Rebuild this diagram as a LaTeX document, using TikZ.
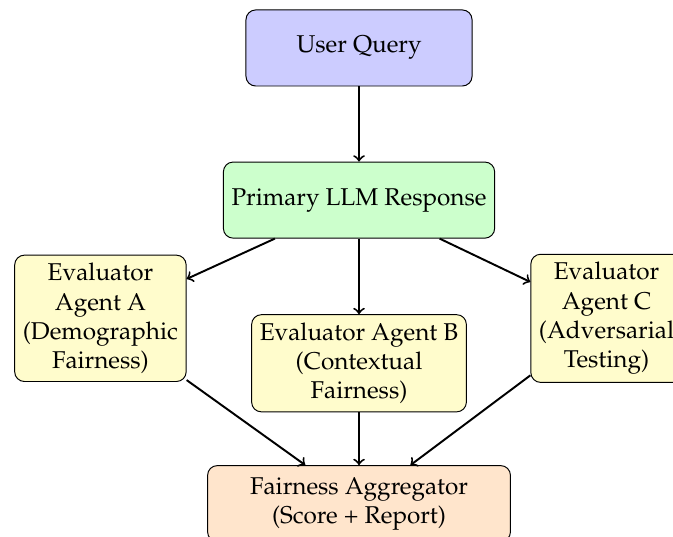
\documentclass[tikz,border=0pt]{standalone}
\usepackage[T1]{fontenc}
\usepackage{mathpazo}

\begin{document}
\begin{tikzpicture}[node distance=2.2cm, auto,
  box/.style={draw, rounded corners, align=center, minimum height=1.1cm},
  evalbox/.style={box, fill=yellow!20}]
\useasboundingbox (-147.74pt,19.75pt) rectangle (129.2pt,-201.2pt);
\node  (query)[box, fill=blue!20, minimum width=3.27cm]  {User Query};
\node  (primary)[box, fill=green!20] [  below   of = query] {Primary LLM Response};
\node  (agentA)[evalbox, minimum width=2.48cm] [node distance=1.71cm, below of = primary, xshift=-3.74cm] {Evaluator\\ Agent A\\ (Demographic\\ Fairness)};
\node  (agentB)[evalbox] [node distance=2.36cm, below of = primary] {Evaluator Agent B\\ (Contextual\\ Fairness)};
\node  (agentC)[evalbox] [node distance=1.71cm, below of = primary, xshift=3.58cm] {Evaluator\\ Agent C\\ (Adversarial\\ Testing)};
\node  (aggregator)[box, fill=orange!20, minimum width=4.38cm] [node distance=2.03cm, below of = agentB] {Fairness Aggregator\\ (Score + Report)};
\draw[->, thick] (query) -- (primary);
\draw[->, thick] (primary) -- (agentA);
\draw[->, thick] (primary) -- (agentB);
\draw[->, thick] (primary) -- (agentC);
\draw[->, thick] (agentA) -- (aggregator);
\draw[->, thick] (agentB) -- (aggregator);
\draw[->, thick] (agentC) -- (aggregator);
\end{tikzpicture}
\end{document}
